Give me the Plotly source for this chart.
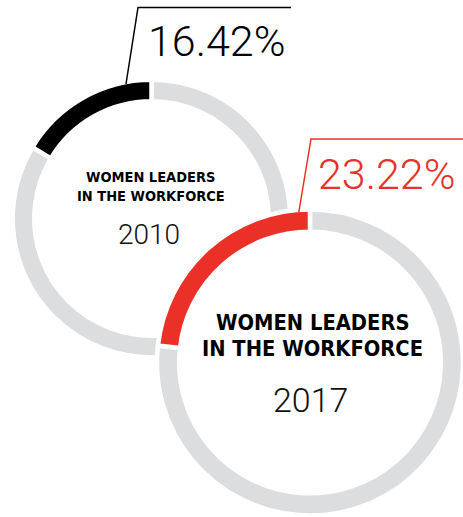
import plotly.graph_objects as go

# ---- data -------------------------------------------------------------
years = ["2010", "2017"]
share_pct = [16.42, 23.22]            # women leaders in the workforce (%)
label_lines = ["WOMEN LEADERS", "IN THE WORKFORCE"]

# ---- styling ----------------------------------------------------------
W, H = 463, 517
ACCENT = ["#000000", "#ea3027"]
VALUE_COLOR = ["#000000", "#e3342b"]
TRACK = "#dcdddf"
GAP = 4.5                              # white separation between arcs
BOLD_FAMILY = "DejaVu Sans Condensed, Liberation Sans Narrow, Liberation Sans, sans-serif"
LIGHT_FAMILY = "Roboto, sans-serif"

# ring geometry in pixels: centre x, centre y, outer radius of pie, hole
RINGS = [
    dict(cx=151.5, cy=218.5, r=138.75, hole=0.845, label=14.5, year=28),
    dict(cx=310.0, cy=362.5, r=153.0, hole=0.855, label=21.7, year=34),
]


def domain(cx, cy, r):
    return dict(
        x=[max(0, (cx - r) / W), min(1, (cx + r) / W)],
        y=[max(0, 1 - (cy + r) / H), min(1, 1 - (cy - r) / H)],
    )


def px(x, y):
    return x / W, 1 - y / H


fig = go.Figure()

for i, (yr, pct) in enumerate(zip(years, share_pct)):
    g = RINGS[i]
    dom = domain(g["cx"], g["cy"], g["r"])
    if i > 0:
        # solid white disc so the newer ring sits in front of the older one
        fig.add_trace(go.Pie(
            values=[1], sort=False, domain=dom,
            marker=dict(colors=["#ffffff"], line=dict(color="#ffffff", width=GAP)),
            textinfo="none", hoverinfo="skip", showlegend=False,
        ))
    # clockwise from 12 o'clock: remainder first, so the share closes the
    # circle and sits just left of the top
    fig.add_trace(go.Pie(
        values=[100 - pct, pct], labels=["other", yr], sort=False,
        direction="clockwise", rotation=0, hole=g["hole"], domain=dom,
        marker=dict(colors=[TRACK, ACCENT[i]], line=dict(color="#ffffff", width=GAP)),
        textinfo="none", hoverinfo="skip", showlegend=False,
    ))

annotations = []


def add_text(text, x, y, size, color, family, weight):
    ax, ay = px(x, y)
    annotations.append(dict(
        text=text, x=ax, y=ay, xref="paper", yref="paper",
        xanchor="center", yanchor="middle", showarrow=False,
        font=dict(family=family, size=size, color=color, weight=weight),
    ))


# ring captions
label_pos = [[(150.0, 176.5), (150.5, 195.5)], [(312.0, 322.0), (312.0, 348.5)]]
year_pos = [(149.0, 234.5), (310.0, 399.5)]
value_pos = [(216.0, 41.5), (386.5, 173.5)]

for i, (yr, pct) in enumerate(zip(years, share_pct)):
    g = RINGS[i]
    for line, (lx, ly) in zip(label_lines, label_pos[i]):
        add_text(line, lx, ly, g["label"], "#000000", BOLD_FAMILY, 700)
    add_text(yr, year_pos[i][0], year_pos[i][1], g["year"], "#111111", LIGHT_FAMILY, 300)
    add_text(f"{pct:.2f}%", value_pos[i][0], value_pos[i][1], 43,
             VALUE_COLOR[i], LIGHT_FAMILY, 300)

# callout lines from each ring to its value
callouts = [
    [(126.0, 84.0), (138.0, 7.5), (291.0, 7.5)],
    [(298.0, 217.0), (311.0, 139.0), (463.0, 139.0)],
]
shapes = []
for i, pts in enumerate(callouts):
    path = "M " + " L ".join(f"{px(x, y)[0]:.5f},{px(x, y)[1]:.5f}" for x, y in pts)
    shapes.append(dict(type="path", path=path, xref="paper", yref="paper",
                       line=dict(color=ACCENT[i], width=1.5)))

fig.update_layout(
    width=W, height=H,
    margin=dict(l=0, r=0, t=0, b=0),
    paper_bgcolor="#ffffff", plot_bgcolor="#ffffff",
    annotations=annotations, shapes=shapes,
    showlegend=False,
)

fig.write_html("out.html", config={"displayModeBar": False})
